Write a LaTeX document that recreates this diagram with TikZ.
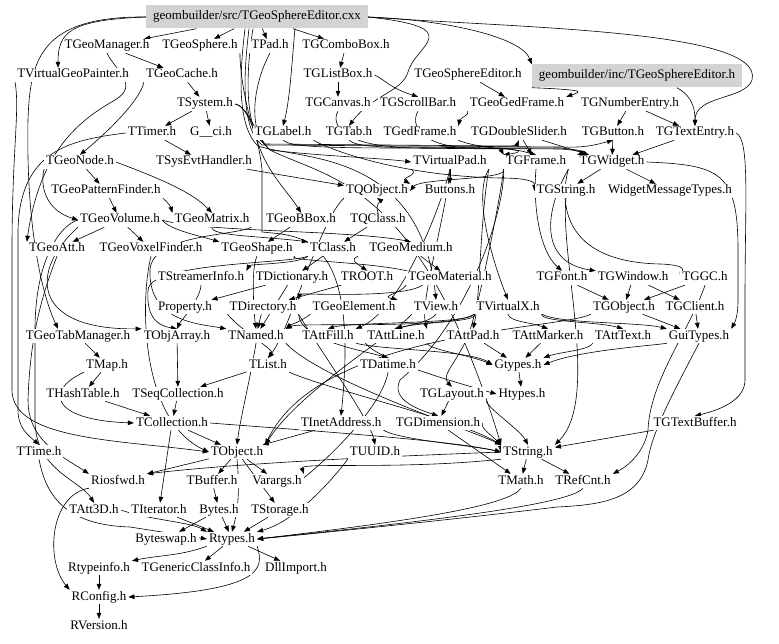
\documentclass[tikz,border=0pt]{standalone}
\usepackage{fontspec}
\setmainfont{Liberation Serif}
\usetikzlibrary{arrows.meta}
\pgfdeclarelayer{edges}
\pgfsetlayers{edges,main}
\definecolor{boxgray}{RGB}{211,211,211}
\tikzset{
  n/.style={font=\fontsize{13}{15}\selectfont, inner xsep=2pt, inner ysep=1pt, text height=9pt, text depth=3pt, fill=white},
  g/.style={n, fill=boxgray, inner xsep=7pt, minimum height=23pt},
  e/.style={-{Triangle[length=6pt,width=4.6pt]}, line width=0.6pt},
}
\begin{document}
\begin{tikzpicture}[x=1pt,y=-1pt]
\useasboundingbox (0,0) rectangle (779,644);
% nodes
\node[g] (cxx) at (257,17) {geombuilder/src/TGeoSphereEditor.cxx};
\node[n] (mgr) at (107,46) {TGeoManager.h};
\node[n] (sph) at (200,46) {TGeoSphere.h};
\node[n] (pad) at (270,46) {TPad.h};
\node[n] (cbx) at (346,46) {TGComboBox.h};
\node[n] (vgp) at (73,75) {TVirtualGeoPainter.h};
\node[n] (gcache) at (182,75) {TGeoCache.h};
\node[n] (lbox) at (338,75) {TGListBox.h};
\node[n] (seh) at (468,75) {TGeoSphereEditor.h};
\node[g] (inc) at (637,76) {geombuilder/inc/TGeoSphereEditor.h};
\node[n] (sys) at (205,104) {TSystem.h};
\node[n] (canvas) at (338,104) {TGCanvas.h};
\node[n] (sbar) at (418,104) {TGScrollBar.h};
\node[n] (ged) at (517,104) {TGeoGedFrame.h};
\node[n] (nent) at (630,104) {TGNumberEntry.h};
\node[n] (timer) at (152,133) {TTimer.h};
\node[n] (gci) at (211,133) {G\_\_ci.h};
\node[n] (lab) at (283,133) {TGLabel.h};
\node[n] (tab) at (349,133) {TGTab.h};
\node[n] (gedf) at (420,133) {TGedFrame.h};
\node[n] (dsl) at (519,133) {TGDoubleSlider.h};
\node[n] (btn) at (613,133) {TGButton.h};
\node[n] (tent) at (695,133) {TGTextEntry.h};
\node[n] (node) at (80,162) {TGeoNode.h};
\node[n] (seh2) at (204,162) {TSysEvtHandler.h};
\node[n] (vpad) at (450,162) {TVirtualPad.h};
\node[n] (frame) at (536,162) {TGFrame.h};
\node[n] (widget) at (612,162) {TGWidget.h};
\node[n] (pfind) at (106,191) {TGeoPatternFinder.h};
\node[n] (qobj) at (377,191) {TQObject.h};
\node[n] (buttons) at (450,191) {Buttons.h};
\node[n] (gstr) at (566,191) {TGString.h};
\node[n] (wmt) at (670,191) {WidgetMessageTypes.h};
\node[n] (vol) at (120,220) {TGeoVolume.h};
\node[n] (matrix) at (212,220) {TGeoMatrix.h};
\node[n] (bbox) at (301,220) {TGeoBBox.h};
\node[n] (qclass) at (378,220) {TQClass.h};
\node[n] (att) at (57,249) {TGeoAtt.h};
\node[n] (voxel) at (151,249) {TGeoVoxelFinder.h};
\node[n] (shape) at (257,249) {TGeoShape.h};
\node[n] (class) at (333,249) {TClass.h};
\node[n] (medium) at (411,249) {TGeoMedium.h};
\node[n] (sinfo) at (201,278) {TStreamerInfo.h};
\node[n] (dict) at (292,278) {TDictionary.h};
\node[n] (root) at (367,278) {TROOT.h};
\node[n] (mat) at (450,278) {TGeoMaterial.h};
\node[n] (font) at (562,278) {TGFont.h};
\node[n] (window) at (633,278) {TGWindow.h};
\node[n] (gc) at (705,278) {TGGC.h};
\node[n] (prop) at (185,307) {Property.h};
\node[n] (dir) at (263,307) {TDirectory.h};
\node[n] (elem) at (354,307) {TGeoElement.h};
\node[n] (view) at (436,307) {TView.h};
\node[n] (vx) at (508,307) {TVirtualX.h};
\node[n] (gobj) at (624,307) {TGObject.h};
\node[n] (client) at (695,307) {TGClient.h};
\node[n] (tabm) at (78,336) {TGeoTabManager.h};
\node[n] (oarr) at (177,336) {TObjArray.h};
\node[n] (named) at (256,336) {TNamed.h};
\node[n] (afill) at (328,336) {TAttFill.h};
\node[n] (aline) at (396,336) {TAttLine.h};
\node[n] (apad) at (473,336) {TAttPad.h};
\node[n] (amark) at (548,336) {TAttMarker.h};
\node[n] (atext) at (623,336) {TAttText.h};
\node[n] (gui) at (699,336) {GuiTypes.h};
\node[n] (map) at (107,365) {TMap.h};
\node[n] (list) at (268,365) {TList.h};
\node[n] (datime) at (388,365) {TDatime.h};
\node[n] (gtypes) at (518,365) {Gtypes.h};
\node[n] (hash) at (83,394) {THashTable.h};
\node[n] (seq) at (178,394) {TSeqCollection.h};
\node[n] (layout) at (452,394) {TGLayout.h};
\node[n] (htypes) at (522,394) {Htypes.h};
\node[n] (coll) at (172,423) {TCollection.h};
\node[n] (inet) at (341,423) {TInetAddress.h};
\node[n] (dim) at (438,423) {TGDimension.h};
\node[n] (tbuf) at (695,423) {TGTextBuffer.h};
\node[n] (ttime) at (39,452) {TTime.h};
\node[n] (obj) at (237,452) {TObject.h};
\node[n] (uuid) at (375,452) {TUUID.h};
\node[n] (str) at (528,452) {TString.h};
\node[n] (riosfwd) at (118,481) {Riosfwd.h};
\node[n] (buffer) at (212,481) {TBuffer.h};
\node[n] (varargs) at (277,481) {Varargs.h};
\node[n] (math) at (521,481) {TMath.h};
\node[n] (refcnt) at (583,481) {TRefCnt.h};
\node[n] (att3d) at (94,510) {TAtt3D.h};
\node[n] (iter) at (159,510) {TIterator.h};
\node[n] (bytes) at (219,510) {Bytes.h};
\node[n] (storage) at (280,510) {TStorage.h};
\node[n] (bswap) at (166,539) {Byteswap.h};
\node[n] (rtypes) at (232,539) {Rtypes.h};
\node[n] (rtinfo) at (99,568) {Rtypeinfo.h};
\node[n] (gci2) at (196,568) {TGenericClassInfo.h};
\node[n] (dll) at (296,568) {DllImport.h};
\node[n] (rconfig) at (99,597) {RConfig.h};
\node[n] (rversion) at (99,626) {RVersion.h};

\begin{pgfonlayer}{edges}
% top
\draw[e] (cxx) -- (mgr);
\draw[e] (cxx) -- (sph);
\draw[e] (cxx) -- (pad);
\draw[e] (cxx) -- (cbx);
\draw[e] ([xshift=38pt]cxx.south) .. controls (292,60) and (290,100) .. (lab.north);
\draw[e] (cxx.west) .. controls (70,20) and (58,32) .. ([xshift=-15pt]vgp.north);
\draw[e] (cxx.west) .. controls (40,16) and (30,60) .. (28,120) .. controls (26,220) and (40,290) .. ([xshift=-20pt]tabm.north);
\draw[e] (cxx.east) .. controls (450,20) and (522,38) .. (inc.north west);
\draw[e] (cxx.east) .. controls (520,28) and (765,30) .. (752,80) .. controls (745,100) and (695,95) .. (tent.north);
\draw[e] (cxx.east) .. controls (470,28) and (415,45) .. (408,72) .. controls (402,92) and (372,95) .. (tab.north);
\draw[e] ([xshift=-12pt]cxx.south) .. controls (240,70) and (236,125) .. (258,146) .. controls (300,160) and (420,150) .. (view.north);
\draw[e] ([xshift=-8pt]cxx.south) .. controls (244,70) and (240,128) .. (262,145) -- (560,147) .. controls (585,148) and (595,145) .. (btn.south);
\draw[e] ([xshift=-4pt]cxx.south) .. controls (246,70) and (244,128) .. (264,144) -- (505,146) .. controls (515,146) and (517,145) .. (dsl.south);
\draw[e] (mgr) -- (gcache);
\draw[e] (mgr.south) .. controls (115,70) and (140,85) .. (115,100) .. controls (80,120) and (40,150) .. (att.north west);
\draw[e] (cbx) -- (lbox);
\draw[e] (lbox) -- (canvas);
\draw[e] (lbox.east) .. controls (385,80) and (390,88) .. (sbar.north);
\draw[e] (seh) -- (ged);
\draw[e] (inc.south west) .. controls (590,90) and (580,92) .. (ged.north east);
\draw[e] ([xshift=40pt]inc.south) .. controls (690,95) and (695,105) .. (tent.north);
\draw[e] (nent) -- (btn);
\draw[e] (nent) -- (tent);
\draw[e] (ged.south west) .. controls (470,115) and (460,118) .. (gedf.north east);
\draw[e] (gcache) -- (sys);
\draw[e] (gcache.south west) .. controls (140,100) and (110,130) .. (node.north);
\draw[e] (sys) -- (timer);
\draw[e] (sys) -- (gci);
\draw[e] (sph.south east) .. controls (240,80) and (250,130) .. (265,160) .. controls (275,180) and (290,195) .. (bbox.north);
\draw[e] (pad.south) .. controls (255,80) and (245,130) .. (270,150) .. controls (320,156) and (380,158) .. (vpad.west);
\draw[e] (sys.east) .. controls (245,105) and (258,130) .. (262,170) -- (262,232) .. controls (300,236) and (360,232) .. (inet.north);
\draw[e] (sys.east) .. controls (250,108) and (255,135) .. (270,150) .. controls (330,180) and (420,180) .. (str.north west);
% GUI
\draw[e] (canvas.south) .. controls (330,125) and (345,145) .. (400,147) -- (500,148) .. controls (520,150) and (525,152) .. (frame.north);
\draw[e] (sbar.south) .. controls (410,125) and (420,146) .. (470,148) -- (560,148) .. controls (580,150) and (590,152) .. (widget.north west);
\draw[e] (lab.south) .. controls (290,145) and (300,148) .. (400,148) -- (505,149) .. controls (520,150) and (524,152) .. (frame.north west);
\draw[e] (lab.south east) .. controls (330,150) and (400,176) .. (500,178) .. controls (520,178) and (535,180) .. (gstr.west);
\draw[e] (tab.south) .. controls (355,145) and (365,147) .. (420,148) -- (560,149) .. controls (575,150) and (585,152) .. (widget.north west);
\draw[e] (gedf.south east) .. controls (470,146) and (500,148) .. (frame.north west);
\draw[e] (dsl) -- (widget);
\draw[e] (dsl) -- (frame);
\draw[e] (btn) -- (widget);
\draw[e] (tent) -- (widget);
\draw[e] (tent.east) .. controls (750,140) and (745,200) .. (745,300) -- (745,380) .. controls (745,400) and (720,410) .. (tbuf.north);
\draw[e] (widget) -- (gstr);
\draw[e] (widget) -- (wmt);
\draw[e] (widget.east) .. controls (720,165) and (738,172) .. (738,250) -- (738,300) .. controls (738,316) and (735,322) .. (gui.north east);
\draw[e] (frame.south) .. controls (533,200) and (538,250) .. (font.north);
\draw[e] (frame.south east) .. controls (545,210) and (538,262) .. (window.north west);
\draw[e] (frame.south east) .. controls (560,200) and (560,262) .. (660,264) .. controls (690,265) and (682,272) .. (gc.west);
\draw[e] (frame.south west) .. controls (500,200) and (480,300) .. (470,330) .. controls (460,360) and (440,375) .. (layout.north);
\draw[e] (frame.south west) .. controls (505,210) and (470,320) .. (400,380) .. controls (390,400) and (420,410) .. (dim.north);
\draw[e] (frame.south west) .. controls (510,180) and (420,178) .. (qobj.east);
\draw[e] (window) -- (gobj);
\draw[e] (window) -- (client);
\draw[e] (font) -- (gobj);
\draw[e] (gc) -- (gobj);
\draw[e] (client) -- (gui);
\draw[e] (gobj) -- (gui);
\draw[e] (gobj.south west) .. controls (560,330) and (320,330) .. (obj.north east);
\draw[e] (gstr.south) .. controls (560,260) and (600,400) .. (str.north east);
\draw[e] (gc.south) .. controls (690,330) and (650,380) .. (648,430) .. controls (645,450) and (630,465) .. (refcnt.north east);
\draw[e] (gui.south) .. controls (680,380) and (652,430) .. (648,460) .. controls (640,500) and (600,505) .. (557,507) .. controls (450,520) and (300,535) .. (rtypes.east);
\draw[e] (gui.south west) .. controls (660,345) and (580,350) .. (gtypes.east);
% pad/x
\draw[e] (vpad) -- (buttons);
\draw[e] (vpad.south west) .. controls (420,175) and (400,178) .. (qobj.north east);
\draw[e] (vpad.south) .. controls (445,220) and (420,300) .. (aline.north east);
\draw[e] (vpad.south) .. controls (440,210) and (400,310) .. (afill.north east);
\draw[e] (vpad.south east) .. controls (480,220) and (480,300) .. (apad.north);
\draw[e] (vpad.south east) .. controls (470,200) and (500,280) .. (vx.north);
\draw[e] (vx.south) .. controls (510,322) and (530,322) .. (amark.north);
\draw[e] (vx.south east) .. controls (540,322) and (600,322) .. (atext.north);
\draw[e] (vx.south west) .. controls (480,322) and (420,322) .. (aline.north);
\draw[e] (vx.south west) .. controls (470,324) and (350,322) .. (afill.north);
\draw[e] (vx.south east) .. controls (560,324) and (640,322) .. (gui.north west);
\draw[e] (vx.south west) .. controls (450,330) and (300,322) .. (named.north east);
\draw[e] (view.south west) .. controls (400,330) and (300,390) .. (obj.north east);
\draw[e] (view.south) .. controls (430,322) and (410,325) .. (aline.north);
% attributes
\draw[e] (afill.south east) .. controls (380,350) and (470,350) .. (gtypes.west);
\draw[e] (aline.south east) .. controls (430,350) and (470,355) .. (gtypes.west);
\draw[e] (apad) -- (gtypes);
\draw[e] (amark) -- (gtypes);
\draw[e] (atext.south west) .. controls (590,350) and (560,352) .. (gtypes.north east);
\draw[e] (gtypes) -- (htypes);
\draw[e] (aline.south west) .. controls (380,360) and (440,378) .. (htypes.west);
\draw[e] (layout) -- (dim);
\draw[e] (layout.south east) .. controls (490,410) and (520,430) .. (str.north);
\draw[e] (dim) -- (math);
\draw[e] (dim.east) .. controls (480,430) and (500,440) .. (str.west);
\draw[e] (tbuf) -- (str);
% core classes
\draw[e] (qobj.south west) .. controls (320,220) and (290,330) .. (list.north);
\draw[e] (qclass) -- (class);
\draw[e] (qclass.north) .. controls (375,205) and (380,200) .. (qobj.south);
\draw[e] (class) -- (dict);
\draw[e] (class.south east) .. controls (350,260) and (355,262) .. (root.north);
\draw[e] (class.south west) .. controls (300,264) and (250,264) .. (sinfo.north east);
\draw[e] (class.south west) .. controls (290,264) and (150,262) .. (148,290) .. controls (146,320) and (160,326) .. (oarr.north);
\draw[e] (dict) -- (prop);
\draw[e] (dict) -- (named);
\draw[e] (root) -- (dir);
\draw[e] (dir) -- (named);
\draw[e] (dir.south east) .. controls (300,340) and (360,350) .. (datime.north);
\draw[e] (dir.south east) .. controls (320,350) and (370,420) .. (uuid.north);
\draw[e] (dir.south west) .. controls (240,330) and (275,350) .. (list.north);
\draw[e] (sinfo.south) .. controls (200,300) and (180,322) .. (oarr.north);
\draw[e] (shape.south east) .. controls (280,262) and (420,262) .. (425,280) .. controls (428,300) and (300,293) .. (dir.north east);
\draw[e] (shape.south) .. controls (250,270) and (255,322) .. (named.north);
\draw[e] (bbox) -- (shape);
\draw[e] (matrix.south east) .. controls (235,236) and (152,234) .. (150,270) .. controls (148,322) and (200,324) .. (named.north west);
\draw[e] (matrix.south) .. controls (210,236) and (260,236) .. (class.north west);
\draw[e] (medium) -- (mat);
\draw[e] (mat.south west) .. controls (400,294) and (380,296) .. (elem.north east);
\draw[e] (elem.south west) .. controls (300,322) and (290,325) .. (named.north east);
\draw[e] (seh2) -- (qobj);
\draw[e] (timer) -- (seh2);
\draw[e] (timer.west) .. controls (70,140) and (20,150) .. (18,230) -- (18,410) .. controls (18,428) and (28,435) .. (ttime.north);
% geometry
\draw[e] (node) -- (pfind);
\draw[e] (node.east) .. controls (150,175) and (190,190) .. (matrix.north);
\draw[e] (node.south west) .. controls (40,185) and (45,210) .. (vol.west);
\draw[e] (pfind) -- (vol);
\draw[e] (pfind.south east) .. controls (165,200) and (170,205) .. (matrix.north west);
\draw[e] (vol) -- (att);
\draw[e] (vol) -- (voxel);
\draw[e] (vol.east) .. controls (170,230) and (200,236) .. (shape.north west);
\draw[e] (vol.east) .. controls (200,232) and (350,230) .. (medium.north);
\draw[e] (vol.west) .. controls (60,225) and (35,260) .. (35,330) -- (35,420) .. controls (35,470) and (80,480) .. (att3d.north);
\draw[e] (vol.south west) .. controls (30,270) and (30,330) .. (oarr.north west);
\draw[e] (voxel.south) .. controls (140,300) and (140,420) .. (obj.west);
\draw[e] (vgp.south west) .. controls (20,110) and (12,150) .. (12,250) -- (12,390) .. controls (12,440) and (120,440) .. (obj.west);
\draw[e] (att.south) .. controls (40,300) and (30,340) .. (28,400) .. controls (28,440) and (60,455) .. (riosfwd.north west);
% collections
\draw[e] (tabm) -- (map);
\draw[e] (map) -- (hash);
\draw[e] (map.south west) .. controls (45,390) and (50,420) .. (coll.west);
\draw[e] (oarr) -- (seq);
\draw[e] (list) -- (seq);
\draw[e] (seq) -- (coll);
\draw[e] (hash) -- (coll);
\draw[e] (coll) -- (iter);
\draw[e] (coll) -- (obj);
\draw[e] (coll.east) .. controls (300,430) and (450,440) .. (str.west);
\draw[e] (named.south) .. controls (250,380) and (240,420) .. (obj.north);
\draw[e] (named.south east) .. controls (320,380) and (470,430) .. (str.north west);
\draw[e] (list.south east) .. controls (330,390) and (460,420) .. (str.north west);
\draw[e] (inet) -- (obj);
\draw[e] (inet.south east) .. controls (400,440) and (470,445) .. (str.west);
\draw[e] (datime.south) .. controls (380,420) and (280,500) .. (varargs.north east);
\draw[e] (uuid.south west) .. controls (340,470) and (300,520) .. (rtypes.north east);
% base
\draw[e] (obj) -- (riosfwd);
\draw[e] (obj) -- (buffer);
\draw[e] (obj) -- (varargs);
\draw[e] (obj) -- (storage);
\draw[e] (obj.south) .. controls (240,490) and (238,510) .. (rtypes.north);
\draw[e] (str.south west) .. controls (400,470) and (300,462) .. (varargs.north east);
\draw[e] (str.west) .. controls (400,456) and (250,462) .. (riosfwd.north east);
\draw[e] (str) -- (math);
\draw[e] (str) -- (refcnt);
\draw[e] (math.south) .. controls (510,505) and (420,520) .. (rtypes.east);
\draw[e] (refcnt.south) .. controls (570,505) and (420,522) .. (rtypes.east);
\draw[e] (buffer) -- (bytes);
\draw[e] (bytes) -- (rtypes);
\draw[e] (bytes) -- (bswap);
\draw[e] (storage) -- (rtypes);
\draw[e] (iter) -- (rtypes);
\draw[e] (att3d.east) .. controls (150,520) and (190,522) .. (rtypes.north west);
\draw[e] (ttime.south) .. controls (45,490) and (60,525) .. (130,527) -- (rtypes.west);
\draw[e] (rtypes.south west) .. controls (180,556) and (160,555) .. (rtinfo.north east);
\draw[e] (rtypes) -- (gci2);
\draw[e] (rtypes) -- (dll);
\draw[e] (rtypes.south east) .. controls (265,570) and (260,590) .. (rconfig.east);
\draw[e] (rtinfo) -- (rconfig);
\draw[e] (rconfig) -- (rversion);
\draw[e] (riosfwd.south west) .. controls (50,495) and (45,560) .. (rconfig.north west);
\end{pgfonlayer}
\end{tikzpicture}
\end{document}
